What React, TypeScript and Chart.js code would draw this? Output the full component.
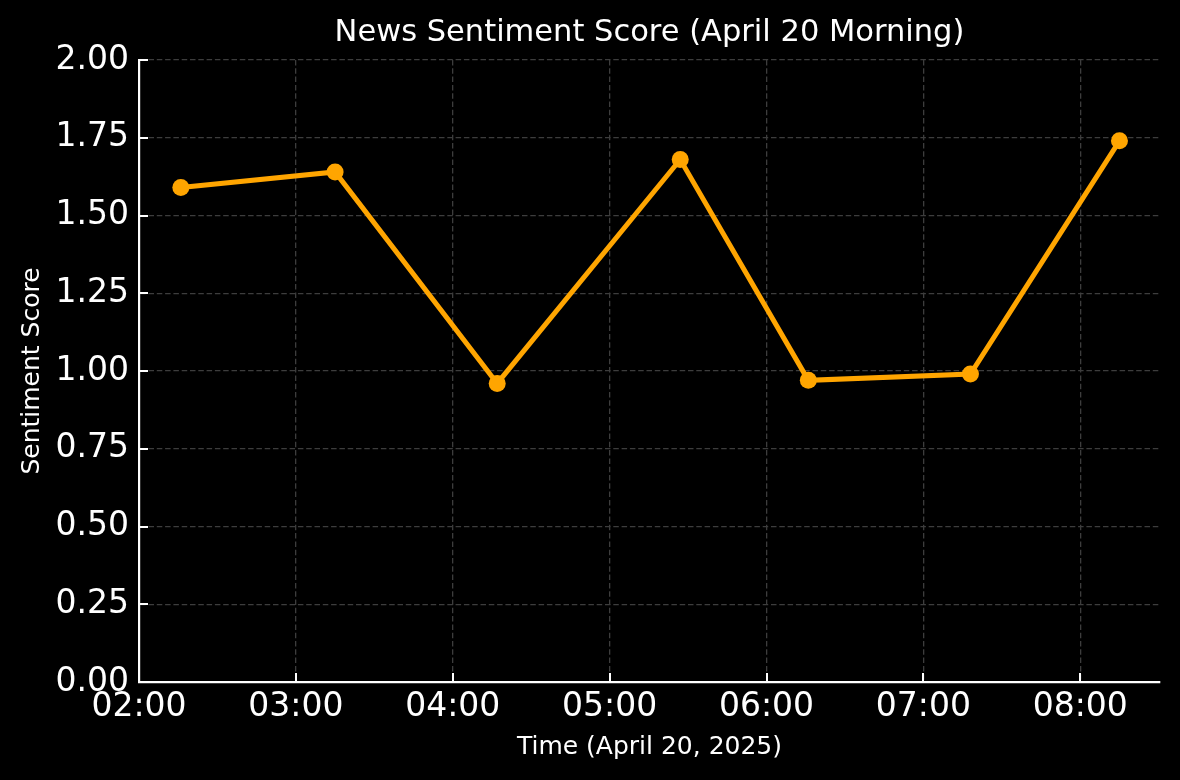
import React, { useEffect, useRef } from "react";
import { Chart, registerables } from "chart.js";

Chart.register(...registerables);

const timeLabels = ["02:16", "03:15", "04:17", "05:27", "06:16", "07:18", "08:15"];
const scores = [1.59, 1.64, 0.96, 1.68, 0.97, 0.99, 1.74];
const xTickLabels = ["02:00", "03:00", "04:00", "05:00", "06:00", "07:00", "08:00"];
const yTickValues = [0, 0.25, 0.5, 0.75, 1.0, 1.25, 1.5, 1.75, 2.0];
const chartTitle = "News Sentiment Score (April 20 Morning)";

const toMinutes = (s: string) => {
  const [h, m] = s.split(":").map(Number);
  return h * 60 + m;
};
const fmt = (v: number) => {
  const h = Math.floor(v / 60);
  const m = Math.round(v - h * 60);
  return String(h).padStart(2, "0") + ":" + String(m).padStart(2, "0");
};

const FONT = "'DejaVu Sans', sans-serif";
const GRID = "#3d3d3d";

const innerTicks = {
  id: "innerTicks",
  afterDatasetsDraw(chart: any) {
    const { ctx, chartArea } = chart;
    const xs = chart.scales.x;
    const ys = chart.scales.y;
    ctx.save();
    ctx.strokeStyle = "#ffffff";
    ctx.lineWidth = 2;
    ctx.beginPath();
    xs.ticks.forEach((t: any) => {
      const px = Math.round(xs.getPixelForValue(t.value));
      ctx.moveTo(px, chartArea.bottom);
      ctx.lineTo(px, chartArea.bottom - 9);
    });
    ys.ticks.forEach((t: any) => {
      const py = Math.round(ys.getPixelForValue(t.value));
      ctx.moveTo(chartArea.left, py);
      ctx.lineTo(chartArea.left + 9, py);
    });
    ctx.stroke();
    ctx.restore();
  },
};

const plotTitle = {
  id: "plotTitle",
  afterDraw(chart: any) {
    const { ctx, chartArea } = chart;
    ctx.save();
    ctx.fillStyle = "#ffffff";
    ctx.font = "30.5px " + FONT;
    ctx.textAlign = "center";
    ctx.textBaseline = "middle";
    ctx.fillText(chartTitle, (chartArea.left + chartArea.right) / 2, 33);
    ctx.restore();
  },
};

export default function App() {
  const ref = useRef<HTMLCanvasElement | null>(null);
  useEffect(() => {
    if (!ref.current) return;
    const chart = new Chart(ref.current, {
      type: "line",
      data: {
        datasets: [
          {
            data: timeLabels.map((t, i) => ({ x: toMinutes(t), y: scores[i] })),
            borderColor: "#FFA500",
            backgroundColor: "#FFA500",
            borderWidth: 5,
            pointRadius: 8.5,
            pointBorderWidth: 0,
            pointBackgroundColor: "#FFA500",
            tension: 0,
          },
        ],
      },
      options: {
        responsive: false,
        animation: false,
        layout: { padding: { top: 60, right: 20, bottom: 0, left: 0 } },
        plugins: {
          legend: { display: false },
          tooltip: { enabled: false },
          title: { display: false },
        },
        scales: {
          x: {
            type: "linear",
            min: toMinutes("02:00"),
            max: 510.5,
            afterBuildTicks: (scale: any) => {
              scale.ticks = xTickLabels.map((l) => ({ value: toMinutes(l) }));
            },
            afterFit: (scale: any) => {
              scale.height = 98;
            },
            ticks: {
              color: "#ffffff",
              font: { family: FONT, size: 33 },
              padding: 6,
              maxRotation: 0,
              autoSkip: false,
              callback: (v: any) => fmt(Number(v)),
            },
            grid: {
              color: GRID,
              lineWidth: 1.3,
              drawTicks: false,
            },
            border: { display: true, color: "#ffffff", width: 2.2, dash: [5.5, 2.8] },
            title: {
              display: true,
              text: "Time (April 20, 2025)",
              color: "#ffffff",
              font: { family: FONT, size: 25, lineHeight: 1.2 },
              padding: { top: 0, bottom: 18 },
            },
          },
          y: {
            min: 0,
            max: 2,
            afterBuildTicks: (scale: any) => {
              scale.ticks = yTickValues.map((v) => ({ value: v }));
            },
            afterFit: (scale: any) => {
              scale.width = 139;
            },
            ticks: {
              color: "#ffffff",
              font: { family: FONT, size: 33 },
              padding: 10,
              callback: (v: any) => Number(v).toFixed(2),
            },
            grid: {
              color: GRID,
              lineWidth: 1.3,
              drawTicks: false,
            },
            border: { display: true, color: "#ffffff", width: 2.2, dash: [5.5, 2.8] },
            title: {
              display: true,
              text: "Sentiment Score",
              color: "#ffffff",
              font: { family: FONT, size: 25, lineHeight: 1.2 },
              padding: { top: 17, bottom: 0 },
            },
          },
        },
      } as any,
      plugins: [innerTicks, plotTitle],
    });
    return () => chart.destroy();
  }, []);
  return (
    <div style={{ position: "fixed", left: 0, top: 0, width: 1180, height: 780, background: "#000" }}>
      <canvas ref={ref} width={1180} height={780} style={{ display: "block" }} />
    </div>
  );
}
